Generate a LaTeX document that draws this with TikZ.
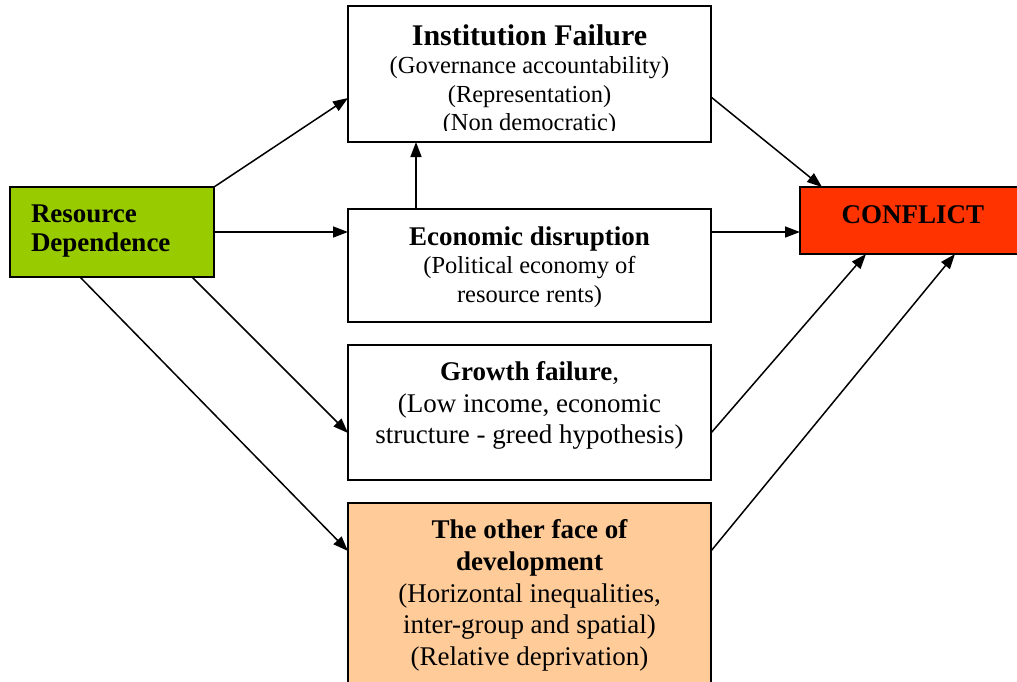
\documentclass[tikz,border=0pt]{standalone}
\usepackage{fontspec}
\setmainfont{Liberation Serif}
\usetikzlibrary{arrows.meta}
\definecolor{rdgreen}{HTML}{99CC00}
\definecolor{cfred}{HTML}{FF3300}
\definecolor{peach}{HTML}{FFCC99}
\begin{document}
\begin{tikzpicture}[x=1pt,y=-1pt,
  box/.style={draw=black,line width=1.5pt,inner sep=0pt,outer sep=0pt},
  txt/.style={inner sep=0pt,outer sep=0pt,align=center,anchor=north},
  arr/.style={line width=1.5pt,-{Triangle[length=15pt,width=11pt]}}]
\clip (0,0) rectangle (1017,681);
\fill[white] (0,0) rectangle (1017,681);
% boxes
\node[box,fill=rdgreen,minimum width=204pt,minimum height=90pt] (rd) at (112,232) {};
\node[box,fill=white,minimum width=363pt,minimum height=136pt] (inst) at (529.5,74) {};
\node[box,fill=white,minimum width=363pt,minimum height=113pt] (econ) at (529.5,265.5) {};
\node[box,fill=white,minimum width=363pt,minimum height=135pt] (growth) at (529.5,412.5) {};
\node[box,fill=peach,minimum width=363pt,minimum height=197pt] (other) at (529.5,601.5) {};
\node[box,fill=cfred,minimum width=218pt,minimum height=67pt] (conflict) at (909,220.5) {};
% texts
\node[txt,anchor=north west,align=left,font=\fontsize{27}{29}\selectfont\bfseries] (rdtext) at (31,205) {Resource\\Dependence};
\begin{scope}
\clip (348,6) rectangle (711,130);
\node[txt,font=\fontsize{24.5}{28.3}\selectfont] (insttext) at (529.5,24.7) {{\fontsize{30}{28.3}\selectfont\bfseries Institution Failure}\\(Governance accountability)\\(Representation)\\(Non democratic)};
\end{scope}
\node[txt,font=\fontsize{24.5}{28.5}\selectfont] (econtext) at (529.5,226.7) {{\fontsize{27}{28.5}\selectfont\bfseries Economic disruption}\\(Political economy of\\resource rents)};
\node[txt,font=\fontsize{27}{31.5}\selectfont] (growthtext) at (529.5,361.7) {{\bfseries Growth failure},\\(Low income, economic\\structure - greed hypothesis)};
\node[txt,font=\fontsize{27}{31.7}\selectfont] (othertext) at (529.5,519.7) {{\bfseries The other face of}\\{\bfseries development}\\(Horizontal inequalities,\\inter-group and spatial)\\(Relative deprivation)};
\node[txt,font=\fontsize{27}{29}\selectfont\bfseries] (conflicttext) at (912.8,205.4) {CONFLICT};
% connectors
\draw[arr] (rd.north east) -- ([yshift=-24pt]inst.west);
\draw[arr] (rd.east) -- (rd.east -| econ.west);
\draw[arr] ([xshift=-22pt]rd.south east) -- ([yshift=-20.5pt]growth.west);
\draw[arr] ([xshift=70pt]rd.south west) -- ([yshift=50.5pt]other.west);
\draw[arr] ([xshift=-113.5pt]econ.north) -- ([xshift=-113.5pt]econ.north |- inst.south);
\draw[arr] ([yshift=-23pt]inst.east) -- ([xshift=-87pt]conflict.north);
\draw[arr] (rd.east -| econ.east) -- (rd.east -| conflict.west);
\draw[arr] ([yshift=-20.5pt]growth.east) -- ([xshift=-43pt]conflict.south);
\draw[arr] ([yshift=50.5pt]other.east) -- ([xshift=46pt]conflict.south);
\end{tikzpicture}
\end{document}
